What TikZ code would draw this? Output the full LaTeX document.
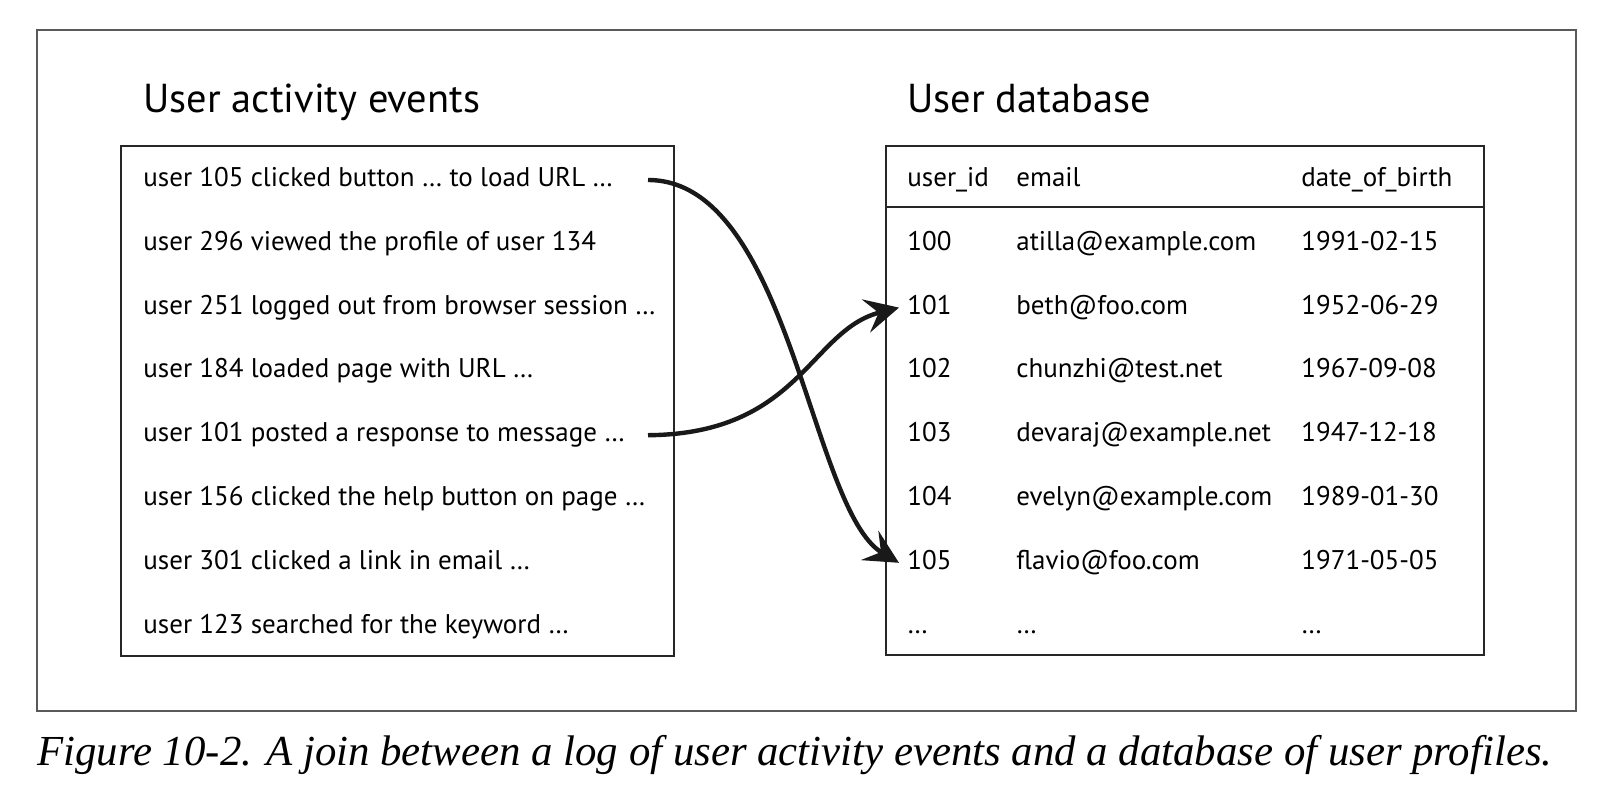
\documentclass[tikz,border=0pt]{standalone}
\usepackage{fontspec}
\setmainfont{Liberation Serif}
\setsansfont{PT Sans}
\usetikzlibrary{arrows.meta,positioning}

\begin{document}
\begin{tikzpicture}[x=0.5pt,y=-0.5pt,
    row/.style={font=\sffamily\fontsize{13.5}{15}\selectfont, anchor=west, inner sep=0pt, text height=9.5pt, text depth=3pt},
    title/.style={font=\sffamily\fontsize{20.2}{24}\selectfont, anchor=base west, inner sep=0pt},
    link/.style={-{Stealth[length=17pt,width=17pt,inset=6.5pt]}, line width=2.2pt, black!90}]
        \tikzstyle{frame} = [draw=black!65, line width=0.8pt]
        \tikzstyle{box} = [draw=black!85, line width=1pt]
        \useasboundingbox (0,0) rectangle (1616,794);
        \draw[frame] (37,30) rectangle (1576,711);

        % left: event log
        \node[title] (evtitle) at (143,112) {User activity events};
        \draw[box] (121,146) rectangle (674,656);
        \node[row] (ev1) at (143,180) {user 105 clicked button … to load URL …};
        \node[row, below=19pt of ev1.south west, anchor=north west] (ev2) {user 296 viewed the profile of user 134};
        \node[row, below=19pt of ev2.south west, anchor=north west] (ev3) {user 251 logged out from browser session …};
        \node[row, below=19pt of ev3.south west, anchor=north west] (ev4) {user 184 loaded page with URL …};
        \node[row, below=19pt of ev4.south west, anchor=north west] (ev5) {user 101 posted a response to message …};
        \node[row, below=19pt of ev5.south west, anchor=north west] (ev6) {user 156 clicked the help button on page …};
        \node[row, below=19pt of ev6.south west, anchor=north west] (ev7) {user 301 clicked a link in email …};
        \node[row, below=19pt of ev7.south west, anchor=north west] (ev8) {user 123 searched for the keyword …};

        % right: user table
        \node[title] (dbtitle) at (907,112) {User database};
        \draw[box] (886,146) rectangle (1484,655);
        \draw[box] (886,207) -- (1484,207);
        \coordinate (colmail) at (1016,0);
        \coordinate (coldob) at (1301,0);
        \node[row] (idh) at (907,180) {user\_id};
        \node[row, below=19pt of idh.south west, anchor=north west] (id100) {100};
        \node[row, below=19pt of id100.south west, anchor=north west] (id101) {101};
        \node[row, below=19pt of id101.south west, anchor=north west] (id102) {102};
        \node[row, below=19pt of id102.south west, anchor=north west] (id103) {103};
        \node[row, below=19pt of id103.south west, anchor=north west] (id104) {104};
        \node[row, below=19pt of id104.south west, anchor=north west] (id105) {105};
        \node[row, below=19pt of id105.south west, anchor=north west] (idmore) {…};

        \node[row] (mailh) at (colmail |- idh) {email};
        \node[row] (mail100) at (colmail |- id100) {atilla@example.com};
        \node[row] (mail101) at (colmail |- id101) {beth@foo.com};
        \node[row] (mail102) at (colmail |- id102) {chunzhi@test.net};
        \node[row] (mail103) at (colmail |- id103) {devaraj@example.net};
        \node[row] (mail104) at (colmail |- id104) {evelyn@example.com};
        \node[row] (mail105) at (colmail |- id105) {flavio@foo.com};
        \node[row] (mailmore) at (colmail |- idmore) {…};

        \node[row] (dobh) at (coldob |- idh) {date\_of\_birth};
        \node[row] (dob100) at (coldob |- id100) {1991-02-15};
        \node[row] (dob101) at (coldob |- id101) {1952-06-29};
        \node[row] (dob102) at (coldob |- id102) {1967-09-08};
        \node[row] (dob103) at (coldob |- id103) {1947-12-18};
        \node[row] (dob104) at (coldob |- id104) {1989-01-30};
        \node[row] (dob105) at (coldob |- id105) {1971-05-05};
        \node[row] (dobmore) at (coldob |- idmore) {…};

        % join arrows
        \coordinate (start) at (648,0);
        \draw[link] (start |- ev1) .. controls (790,180) and (810,510) .. ([xshift=-4pt]id105.west);
        \draw[link] (start |- ev5) .. controls (800,434) and (810,330) .. ([xshift=-4pt]id101.west);

        \node[font=\itshape\fontsize{21.4}{26}\selectfont, anchor=base west, inner sep=0pt] (caption) at (37,765)
            {Figure 10-2. A join between a log of user activity events and a database of user profiles.};
        \end{tikzpicture}
\end{document}
